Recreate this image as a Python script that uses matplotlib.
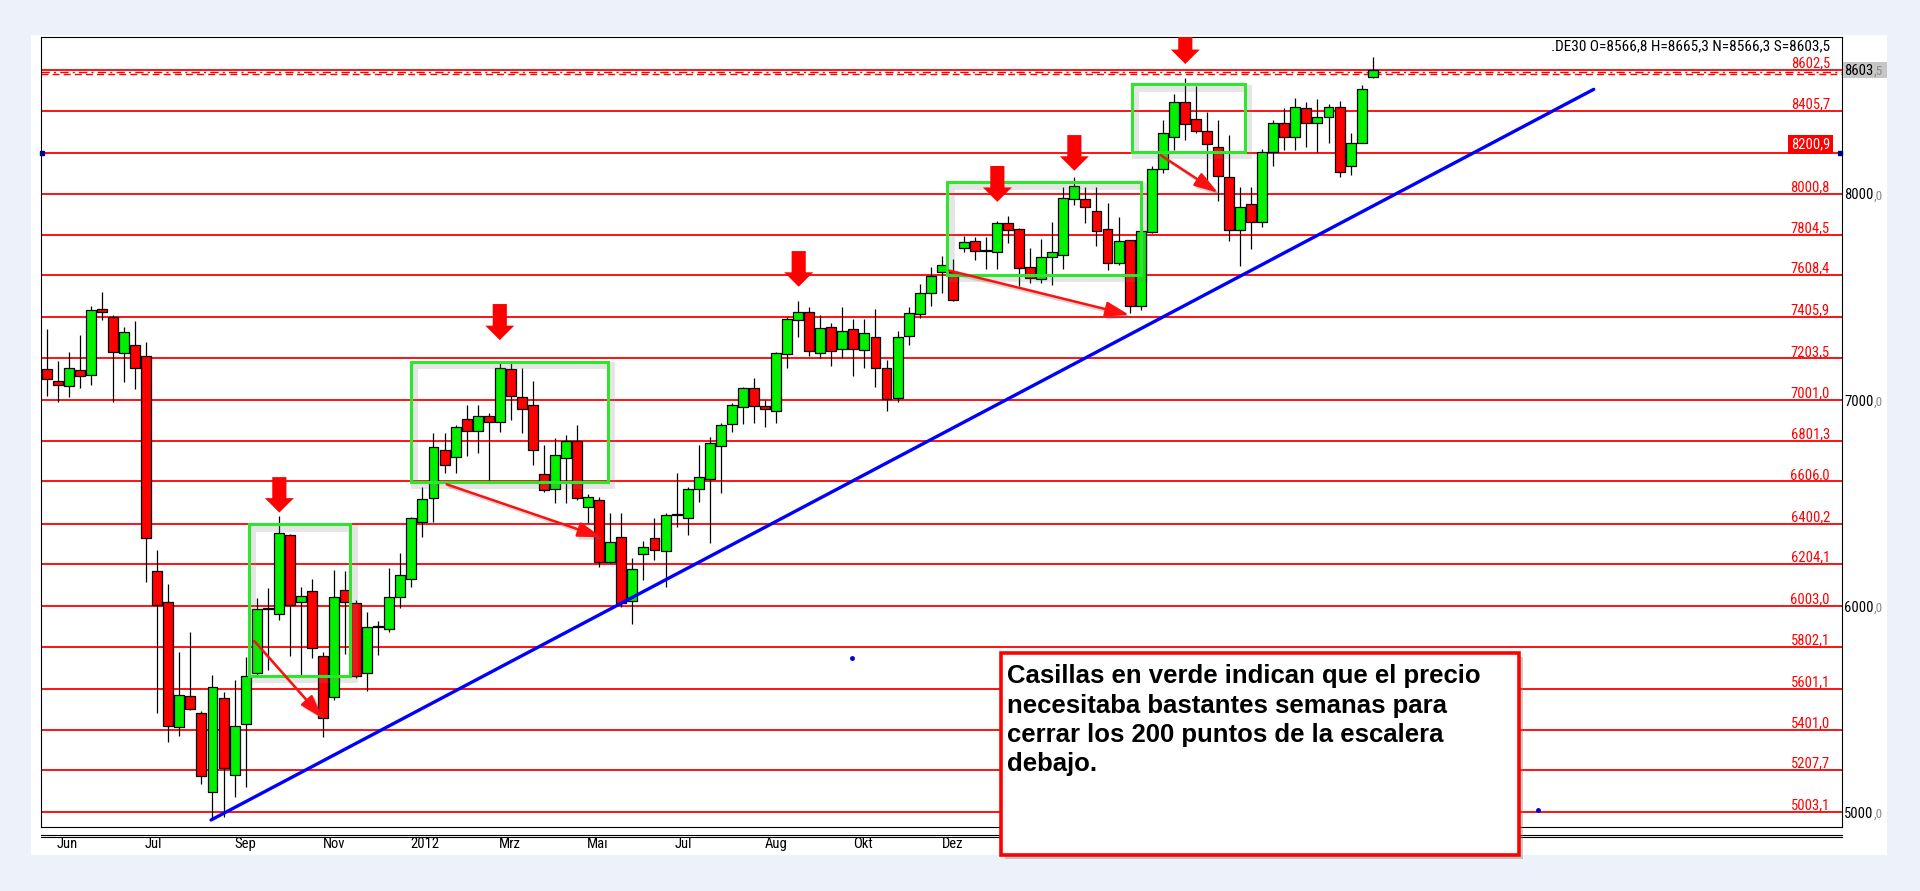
import matplotlib
matplotlib.use("Agg")
import matplotlib.pyplot as plt
import matplotlib.patheffects as pe
from matplotlib import font_manager as fm
from matplotlib.font_manager import FontProperties
from matplotlib.patches import Rectangle, Polygon
from matplotlib.lines import Line2D
import numpy as np

# Velas semanales del DAX (.DE30), junio 2011 - septiembre 2013
opens = [7150, 7093, 7067, 7145, 7121, 7441, 7405, 7227, 7266, 7216,
         6171, 6022, 5412, 5563, 5480, 5097, 5553, 5181, 5427, 5674,
         5986, 5961, 6344, 6019, 6072, 5760, 5561, 6077, 6014, 5674,
         5898, 5888, 6043, 6135, 6407, 6524, 6757, 6723, 6907, 6849,
         6922, 6893, 7150, 7014, 6975, 6640, 6567, 6718, 6800, 6480,
         6514, 6213, 6337, 6024, 6252, 6330, 6267, 6441, 6427, 6567,
         6616, 6778, 6883, 6965, 7058, 6972, 6946, 7224, 7389, 7429,
         7227, 7356, 7247, 7344, 7243, 7308, 7155, 7009, 7311, 7418,
         7522, 7624, 7624, 7737, 7771, 7724, 7719, 7861, 7829, 7645,
         7587, 7693, 7704, 7975, 7975, 7919, 7829, 7664, 7777, 7457,
         7818, 8120, 8276, 8446, 8363, 8308, 8230, 8082, 7826, 7952,
         7866, 8206, 8347, 8279, 8416, 8344, 8373, 8424, 8136, 8247,
         8566.8]
highs = [7344, 7190, 7234, 7316, 7457, 7525, 7413, 7354, 7384, 7282,
         6273, 6106, 5776, 5873, 5490, 5666, 5585, 5642, 5755, 6041,
         6087, 6439, 6350, 6092, 6132, 5779, 6176, 6171, 6030, 5973,
         5930, 6184, 6260, 6435, 6580, 6839, 6839, 6879, 6976, 6976,
         6936, 7182, 7182, 7155, 7093, 6782, 6815, 6831, 6879, 6545,
         6532, 6451, 6451, 6233, 6318, 6427, 6451, 6645, 6580, 6782,
         6823, 6888, 6985, 7062, 7106, 7000, 7235, 7405, 7481, 7454,
         7413, 7376, 7454, 7392, 7392, 7441, 7195, 7336, 7454, 7564,
         7648, 7700, 7684, 7797, 7790, 7790, 7871, 7894, 7835, 7737,
         7785, 7866, 8033, 8085, 8033, 8033, 7955, 7890, 7780, 7830,
         8136, 8360, 8486, 8562, 8525, 8400, 8360, 8285, 8036, 8036,
         8220, 8360, 8416, 8465, 8448, 8460, 8440, 8452, 8298, 8529,
         8665.3]
lows = [7020, 6993, 7017, 7060, 7074, 7389, 6993, 7090, 7056, 6116,
        5483, 5343, 5370, 5496, 5137, 4971, 4976, 5076, 5124, 5658,
        5690, 5936, 5760, 5666, 5747, 5367, 5545, 5771, 5650, 5590,
        5763, 5876, 5990, 6095, 6337, 6410, 6648, 6645, 6729, 6742,
        6613, 6847, 6904, 6842, 6685, 6556, 6499, 6499, 6515, 6402,
        6192, 6208, 5998, 5912, 6127, 6224, 6095, 6386, 6346, 6507,
        6308, 6551, 6847, 6883, 6888, 6871, 6891, 7159, 7305, 7214,
        7203, 7166, 7203, 7117, 7155, 7065, 6949, 6990, 7268, 7397,
        7457, 7522, 7480, 7718, 7680, 7635, 7635, 7761, 7554, 7570,
        7567, 7559, 7635, 7950, 7858, 7748, 7632, 7655, 7422, 7438,
        7812, 8104, 8214, 8263, 8295, 8068, 7968, 7774, 7651, 7732,
        7842, 8136, 8214, 8214, 8230, 8206, 8247, 8085, 8093, 8247,
        8566.3]
closes = [7101, 7072, 7155, 7116, 7436, 7426, 7232, 7329, 7155, 6330,
          6006, 5420, 5568, 5500, 5176, 5607, 5213, 5420, 5660, 5985,
          5991, 6354, 6006, 6048, 5796, 5459, 6043, 6022, 5663, 5898,
          5903, 6043, 6150, 6427, 6519, 6771, 6684, 6868, 6849, 6926,
          6894, 7159, 7019, 6956, 6757, 6563, 6732, 6800, 6524, 6529,
          6213, 6310, 6014, 6179, 6289, 6273, 6441, 6445, 6567, 6629,
          6791, 6878, 6975, 7058, 6972, 6956, 7227, 7392, 7429, 7239,
          7352, 7239, 7336, 7247, 7325, 7155, 7004, 7308, 7425, 7519,
          7603, 7655, 7489, 7766, 7724, 7727, 7861, 7826, 7640, 7591,
          7693, 7718, 7984, 8039, 7936, 7822, 7664, 7774, 7457, 7822,
          8120, 8295, 8446, 8340, 8308, 8243, 8088, 7826, 7936, 7866,
          8206, 8347, 8279, 8421, 8344, 8373, 8424, 8109, 8249, 8513,
          8603.5]

# escalera de niveles (lineas rojas)
levels = [8602.5, 8405.7, 8200.9, 8000.8, 7804.5, 7608.4, 7405.9, 7203.5,
          7001.0, 6801.3, 6606.0, 6400.2, 6204.1, 6003.0, 5802.1, 5601.1,
          5401.0, 5207.7, 5003.1]
level_labels = ["8602,5", "8405,7", "8200,9", "8000,8", "7804,5", "7608,4",
                "7405,9", "7203,5", "7001,0", "6801,3", "6606,0", "6400,2",
                "6204,1", "6003,0", "5802,1", "5601,1", "5401,0", "5207,7",
                "5003,1"]
axis_ticks = [8000, 7000, 6000, 5000]
last_price = 8603.5

month_pos = [1.84, 9.62, 17.99, 26.0, 34.19, 41.93, 49.89, 57.58, 66.0, 73.87, 82.02]
month_labels = ["Jun", "Jul", "Sep", "Nov", "2012", "Mrz", "Mai", "Jul", "Aug", "Okt", "Dez"]

# casillas verdes
box_x0 = [18.3, 32.94, 81.5, 98.2]
box_x1 = [27.45, 50.77, 99.0, 108.4]
box_lo = [5662, 6605, 7608, 8206]
box_hi = [6398, 7187, 8058, 8533]

# flechas rojas hacia abajo
arrow_x = [21.05, 41.0, 68.05, 86.03, 93.0, 103.04]
arrow_tip = [6455, 7292, 7551, 7963, 8114, 8632]
arrow_top = [6627, 7467, 7724, 8137, 8287, 8763]

# flechas diagonales
diag_x0 = [18.78, 36.2, 81.7, 100.8]
diag_y0 = [5832, 6592, 7629, 8190]
diag_x1 = [24.98, 50.2, 97.97, 106.0]
diag_y1 = [5456, 6335, 7414, 8007]

# linea de tendencia
trend_x = [14.87, 140.0]
trend_y = [4963, 8509]
handle_x = [72.9, 134.96]
handle_y = [5749, 5011]

W, H = 1920, 891


def pick_narrow():
    """Busca una fuente estrecha tipo Arial Narrow entre las instaladas."""
    prefs = ['Liberation Sans Narrow', 'Arial Narrow', 'Roboto Condensed',
             'Noto Sans Condensed', 'Open Sans Condensed', 'DejaVu Sans Condensed']
    cands = [f for f in fm.fontManager.ttflist
             if f.style == 'normal' and f.weight in (400, 'normal', 'regular', 'book')]
    for p in prefs:
        for f in cands:
            if f.name == p:
                return f.fname
    for f in cands:
        if f.stretch in ('condensed', 'semi-condensed') and \
                f.name in ('Noto Sans', 'Open Sans', 'Roboto', 'DejaVu Sans', 'Lato', 'Inter'):
            return f.fname
    return None


NARROW_PATH = pick_narrow()


def nfp(size):
    if NARROW_PATH:
        return FontProperties(fname=NARROW_PATH, size=size)
    return FontProperties(family='Liberation Sans', size=size * 0.86)


fig = plt.figure(figsize=(19.2, 8.91), dpi=100, facecolor='#EDF1F9')
fig.patches.append(Rectangle((31 / W, (H - 855) / H), 1856 / W, 820 / H,
                             transform=fig.transFigure, facecolor='white',
                             edgecolor='none', zorder=-5))

ax = fig.add_axes([41 / W, (H - 827) / H, 1801 / W, 790 / H])
ax.set_xlim(-0.52, 162.47)
ax.set_ylim(4929, 8763)
for s in ax.spines.values():
    s.set_color('black')
    s.set_linewidth(0.8)

# niveles
for lv in levels:
    ax.axhline(lv, color='#FF0000', lw=1.3, zorder=2)
ax.axhline(8591, color='#FF0000', lw=1.0, ls=(0, (6, 3, 1.5, 3)), zorder=2)
ax.axhline(8583, color='#FF0000', lw=1.0, ls=(0, (5, 3)), zorder=2)

# velas
o = np.array(opens)
c = np.array(closes)
x = np.arange(len(o))
cols = np.where(c >= o, '#00F000', '#FF0000')
ax.vlines(x, lows, highs, color='black', lw=0.9, zorder=3)
ax.bar(x, np.maximum(np.abs(c - o), 7), bottom=np.minimum(o, c), width=0.9,
       color=cols, edgecolor='black', linewidth=0.9, zorder=4)

# casillas verdes
shadow = [pe.SimpleLineShadow(offset=(2.5, -2.5), shadow_color='#808080', alpha=0.2, linewidth=5),
          pe.Normal()]
for x0, x1, lo, hi in zip(box_x0, box_x1, box_lo, box_hi):
    r = Rectangle((x0, lo), x1 - x0, hi - lo, fill=False, edgecolor='#2EE62E',
                  lw=2.2, zorder=6)
    r.set_path_effects(shadow)
    ax.add_patch(r)

# linea de tendencia
ax.plot(trend_x, trend_y, color='#0000FF', lw=2.4, zorder=6, solid_capstyle='round')
ax.plot(handle_x, handle_y, 'o', color='#0000DD', ms=2.5, zorder=6)
ax.plot([-0.4, 162.3], [8200.9, 8200.9], 's', color='#000080', ms=2.5, zorder=7, clip_on=False)

# flechas rojas verticales
sw, hw, hh = 0.64, 1.31, 70
for ax_, tip, top in zip(arrow_x, arrow_tip, arrow_top):
    pts = [(ax_ - sw, top), (ax_ + sw, top), (ax_ + sw, tip + hh), (ax_ + hw, tip + hh),
           (ax_, tip), (ax_ - hw, tip + hh), (ax_ - sw, tip + hh)]
    ax.add_patch(Polygon(pts, closed=True, facecolor='#FF0000', edgecolor='none', zorder=7))

# flechas diagonales
for x0, y0, x1, y1 in zip(diag_x0, diag_y0, diag_x1, diag_y1):
    ax.annotate('', xy=(x1, y1), xytext=(x0, y0),
                arrowprops=dict(arrowstyle='-|>,head_length=1.1,head_width=0.35',
                                mutation_scale=13, color='#FF1010', lw=1.8,
                                shrinkA=0, shrinkB=0,
                                path_effects=[pe.SimpleLineShadow(offset=(2, -2), alpha=0.25,
                                                                  shadow_color='#606060'),
                                              pe.Normal()]),
                zorder=7)

# etiquetas de niveles
ytr = ax.get_yaxis_transform()
for lv, lab in zip(levels, level_labels):
    if lab == "8200,9":
        ax.annotate(lab, xy=(0.9933, lv), xycoords=ytr, xytext=(0, 3.0),
                    textcoords='offset points', ha='right', va='baseline',
                    color='white', fontproperties=nfp(10.5), zorder=8,
                    bbox=dict(boxstyle='square,pad=0.18', fc='#FF0000', ec='none'))
    else:
        ax.annotate(lab, xy=(0.9933, lv), xycoords=ytr, xytext=(0, 1.8),
                    textcoords='offset points', ha='right', va='baseline',
                    color='#FF0000', fontproperties=nfp(10.5), zorder=8)


def price_label(whole, dec, y):
    t1 = ax.annotate(whole, xy=(1.0011, y), xycoords=ytr, xytext=(0, -3.8),
                     textcoords='offset points', ha='left', va='baseline',
                     fontproperties=nfp(10.5), annotation_clip=False, zorder=8)
    ax.annotate("," + dec, xy=(1, 0), xycoords=t1, xytext=(0.3, 0),
                textcoords='offset points', ha='left', va='bottom',
                fontproperties=nfp(9.5), color='#8A8A8A', annotation_clip=False, zorder=8)


# escala derecha
for t in axis_ticks:
    price_label(str(t), "0", t)

ax.add_patch(Rectangle((1.0006, last_price - 39), 0.0244, 78, transform=ytr,
                       facecolor='#C6C6C6', edgecolor='none', clip_on=False, zorder=5))
whole, dec = f"{last_price:.1f}".split(".")
price_label(whole, dec, last_price)

ax.text(0.9933, 0.9886, ".DE30 O=8566,8 H=8665,3 N=8566,3 S=8603,5",
        transform=ax.transAxes, ha='right', va='center', fontproperties=nfp(11))

# eje x
ax.set_yticks([])
ax.set_xticks(month_pos, month_labels)
ax.tick_params(axis='x', length=0, pad=7.5)
for lbl in ax.get_xticklabels():
    lbl.set_fontproperties(nfp(10.5))

for yy in (835, 837.3):
    fig.add_artist(Line2D([41 / W, 1842 / W], [(H - yy) / H] * 2,
                          transform=fig.transFigure, color='black', lw=0.8))

# cuadro de texto
note = Rectangle((1001 / W, (H - 855) / H), 518 / W, 202 / H, transform=fig.transFigure,
                 facecolor='white', edgecolor='#FF0000', lw=2.6, zorder=5)
note.set_path_effects([pe.SimplePatchShadow(offset=(3, -3), shadow_rgbFace='#808080', alpha=0.4),
                       pe.Normal()])
fig.patches.append(note)
note_lines = ["Casillas en verde indican que el precio",
              "necesitaba bastantes semanas para",
              "cerrar los 200 puntos de la escalera",
              "debajo."]
for k, line in enumerate(note_lines):
    fig.text(1007 / W, (H - (683.3 + 29.4 * k)) / H, line, ha='left', va='baseline',
             fontsize=18.5, fontweight='bold', family=['Liberation Sans', 'DejaVu Sans'],
             color='black', zorder=6)

fig.savefig("out.png", dpi=100, facecolor=fig.get_facecolor())
